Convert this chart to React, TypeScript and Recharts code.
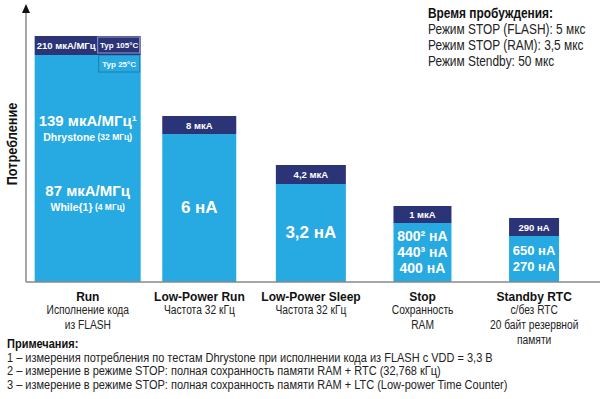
import { ComposedChart, Bar, XAxis, YAxis, ReferenceLine } from 'recharts';

const CATEGORIES = ['Run', 'Low-Power Run', 'Low-Power Sleep', 'Stop', 'Standby RTC'];
const CATEGORY_NOTES = [
  ['Исполнение кода', 'из FLASH'],
  ['Частота 32 кГц'],
  ['Частота 32 кГц'],
  ['Сохранность', 'RAM'],
  ['с/без RTC', '20 байт резервной', 'памяти'],
];
// schematic bar heights (the picture has no value scale)
const TYP_25 = [227, 148, 98, 59, 46];
const TYP_105 = [19, 18, 19, 17, 18];
const TYP_25_TEXT = [
  ['139 мкА/МГц¹', 'Dhrystone (32 МГц)', '', '87 мкА/МГц', 'While{1} (4 МГц)'],
  ['6 нА'],
  ['3,2 нА'],
  ['800² нА', '440³ нА', '400 нА'],
  ['650 нА', '270 нА'],
];
const TYP_105_TEXT = ['210 мкА/МГц', '8 мкА', '4,2 мкА', '1 мкА', '290 нА'];

const WAKEUP_TITLE = 'Время пробуждения:';
const WAKEUP_LINES = [
  'Режим STOP (FLASH): 5 мкс',
  'Режим STOP (RAM): 3,5 мкс',
  'Режим Stendby: 50 мкс',
];
const NOTES_TITLE = 'Примечания:';
const NOTES = [
  '1 – измерения потребления по тестам Dhrystone при исполнении кода из FLASH с VDD = 3,3 В',
  '2 – измерение в режиме STOP: полная сохранность памяти RAM + RTC (32,768 кГц)',
  '3 – измерение в режиме STOP: полная сохранность памяти RAM + LTC (Low-power Time Counter)',
];

const data = CATEGORIES.map((name, i) => ({ name, typ25: TYP_25[i], typ105: TYP_105[i] }));

const LIGHT = '#27a9e1';
const DARK = '#2b3476';
const TREND = '#1f87d0';
const SANS = "'Liberation Sans', Arial, sans-serif";
const NARROW_X = 0.82; // no narrow face installed, squeeze Liberation Sans instead
const BAR_WIDTHS = [106, 74, 70, 58, 50];
const BIG_FONT = [15, 17, 17, 14, 13];

function barBox(props: any) {
  const i = CATEGORIES.indexOf(props.payload?.name ?? props.name);
  const w = BAR_WIDTHS[i];
  const left = props.x + props.width / 2 - w / 2;
  return { i, w, left };
}

function LightBar(props: any) {
  const { y, height } = props;
  const { i, w, left } = barBox(props);
  const lines = TYP_25_TEXT[i];
  const step = 16;
  const spacer = 38;
  const pos: number[] = [];
  let p = 0;
  lines.forEach((t) => {
    if (t === '') {
      pos.push(-1);
      p += spacer;
    } else {
      pos.push(p);
      p += step;
    }
  });
  const span = p - step;
  const cy = y + height / 2 - span / 2 - (i === 0 ? 5 : 1);
  const cx = left + w / 2;
  return (
    <g>
      <rect x={left} y={y} width={w} height={height} fill={LIGHT} />
      {lines.map((t, k) => {
        if (t === '') return null;
        const big = k === 0 || /нА|мкА\/МГц/.test(t);
        const paren = t.indexOf(' (');
        return (
          <text
            key={k}
            x={cx}
            y={cy + pos[k]}
            textAnchor="middle"
            dominantBaseline="central"
            fill="#fff"
            fontFamily={SANS}
            fontWeight="bold"
            fontSize={big ? BIG_FONT[i] : 10.5}
          >
            {big || paren < 0 ? (
              t
            ) : (
              <>
                {t.slice(0, paren)}
                <tspan fontSize={8.5}>{t.slice(paren)}</tspan>
              </>
            )}
          </text>
        );
      })}
      {i === 0 && (
        <g>
          <rect x={left + w - 42} y={y} width={41} height={17} fill={LIGHT} stroke="#1b7fae" />
          <text x={left + w - 21.5} y={y + 9} textAnchor="middle" dominantBaseline="central" fill="#fff" fontFamily={SANS} fontWeight="bold" fontSize={8}>
            Typ 25°C
          </text>
        </g>
      )}
    </g>
  );
}

function DarkBar(props: any) {
  const { y, height } = props;
  const { i, w, left } = barBox(props);
  const boxW = i === 0 ? 43 : 0;
  return (
    <g>
      <rect x={left} y={y} width={w} height={height} fill={DARK} />
      <text
        x={left + (w - boxW) / 2}
        y={y + height / 2}
        textAnchor="middle"
        dominantBaseline="central"
        fill="#fff"
        fontFamily={SANS}
        fontWeight="bold"
        fontSize={9.5}
      >
        {TYP_105_TEXT[i]}
      </text>
      {i === 0 && (
        <g>
          <rect x={left + w - boxW} y={y + 1} width={boxW - 1} height={height - 3} fill={DARK} stroke="#8f9bc9" />
          <text x={left + w - boxW / 2} y={y + height / 2} textAnchor="middle" dominantBaseline="central" fill="#fff" fontFamily={SANS} fontWeight="bold" fontSize={8}>
            Typ 105°C
          </text>
        </g>
      )}
    </g>
  );
}

function CategoryTick(props: any) {
  const { x, y, payload, index } = props;
  return (
    <g>
      <text x={x} y={y + 13} textAnchor="middle" dominantBaseline="central" fill="#111" fontFamily={SANS} fontWeight="bold" fontSize={12}>
        {payload.value}
      </text>
      {CATEGORY_NOTES[index].map((t, k) => (
        <text
          key={k}
          transform={`translate(${x} 0) scale(${NARROW_X} 1)`}
          x={0}
          y={y + 26 + k * 15}
          textAnchor="middle"
          dominantBaseline="central"
          fill="#222"
          fontFamily={SANS}
          fontSize={12.5}
        >
          {t}
        </text>
      ))}
    </g>
  );
}

function arrow(lineColor: string, headColor: string, len: number, half: number, sw: number) {
  return (p: any) => {
    const { x1, y1, x2, y2 } = p;
    const a = Math.atan2(y2 - y1, x2 - x1);
    const bx = x2 - len * Math.cos(a);
    const by = y2 - len * Math.sin(a);
    const nx = -Math.sin(a) * half;
    const ny = Math.cos(a) * half;
    return (
      <g>
        <line x1={x1} y1={y1} x2={bx} y2={by} stroke={lineColor} strokeWidth={sw} />
        <polygon points={`${x2},${y2} ${bx + nx},${by + ny} ${bx - nx},${by - ny}`} fill={headColor} />
      </g>
    );
  };
}

const narrowBox = {
  position: 'absolute' as const,
  fontFamily: SANS,
  color: '#222',
  whiteSpace: 'nowrap' as const,
  transformOrigin: 'left top',
};

export default function App() {
  return (
    <div style={{ position: 'absolute', left: 0, top: 0, width: 600, height: 399, background: '#fff', overflow: 'hidden' }}>
      <ComposedChart width={600} height={399} data={data} margin={{ top: 8, right: 10, bottom: 0, left: 26 }}>
        <XAxis
          dataKey="name"
          interval={0}
          height={117}
          padding={{ left: 6, right: 0 }}
          tickLine={false}
          axisLine={false}
          tickSize={0}
          tick={<CategoryTick />}
        />
        <XAxis xAxisId="trend" type="number" domain={[0, 100]} hide />
        <YAxis hide domain={[0, 274]} />
        <ReferenceLine
          xAxisId="trend"
          ifOverflow="visible"
          segment={[{ x: 0, y: 0 }, { x: 0, y: 278 }]}
          shape={arrow('#888', '#111', 9, 4, 1.5)}
        />
        <ReferenceLine
          xAxisId="trend"
          ifOverflow="visible"
          segment={[{ x: 0, y: 0 }, { x: 100, y: 0 }]}
          shape={arrow('#888', '#111', 9, 4, 1.5)}
        />
        <Bar dataKey="typ25" stackId="a" shape={<LightBar />} isAnimationActive={false} />
        <Bar dataKey="typ105" stackId="a" shape={<DarkBar />} isAnimationActive={false} />
        <ReferenceLine
          xAxisId="trend"
          ifOverflow="visible"
          segment={[{ x: 13.5, y: 276 }, { x: 99.5, y: 59 }]}
          shape={arrow(TREND, TREND, 14, 6, 2)}
        />
      </ComposedChart>

      <div
        style={{
          position: 'absolute',
          left: 12,
          top: 144,
          transform: `translate(-50%, -50%) rotate(-90deg) scaleX(${NARROW_X})`,
          whiteSpace: 'nowrap',
          fontFamily: SANS,
          fontWeight: 'bold',
          fontSize: 15.5,
          lineHeight: '16px',
          color: '#111',
        }}
      >
        Потребление
      </div>

      <div style={{ ...narrowBox, left: 428, top: 5, fontSize: 14.5, lineHeight: '16px', transform: `scaleX(${NARROW_X})` }}>
        <div style={{ fontWeight: 'bold', color: '#111' }}>{WAKEUP_TITLE}</div>
        {WAKEUP_LINES.map((t) => (
          <div key={t}>{t}</div>
        ))}
      </div>

      <div style={{ ...narrowBox, left: 7, top: 338, fontSize: 12.5, lineHeight: '13.5px', transform: 'scaleX(0.88)' }}>
        <div style={{ fontWeight: 'bold', color: '#111' }}>{NOTES_TITLE}</div>
        {NOTES.map((t) => (
          <div key={t}>{t}</div>
        ))}
      </div>
    </div>
  );
}
